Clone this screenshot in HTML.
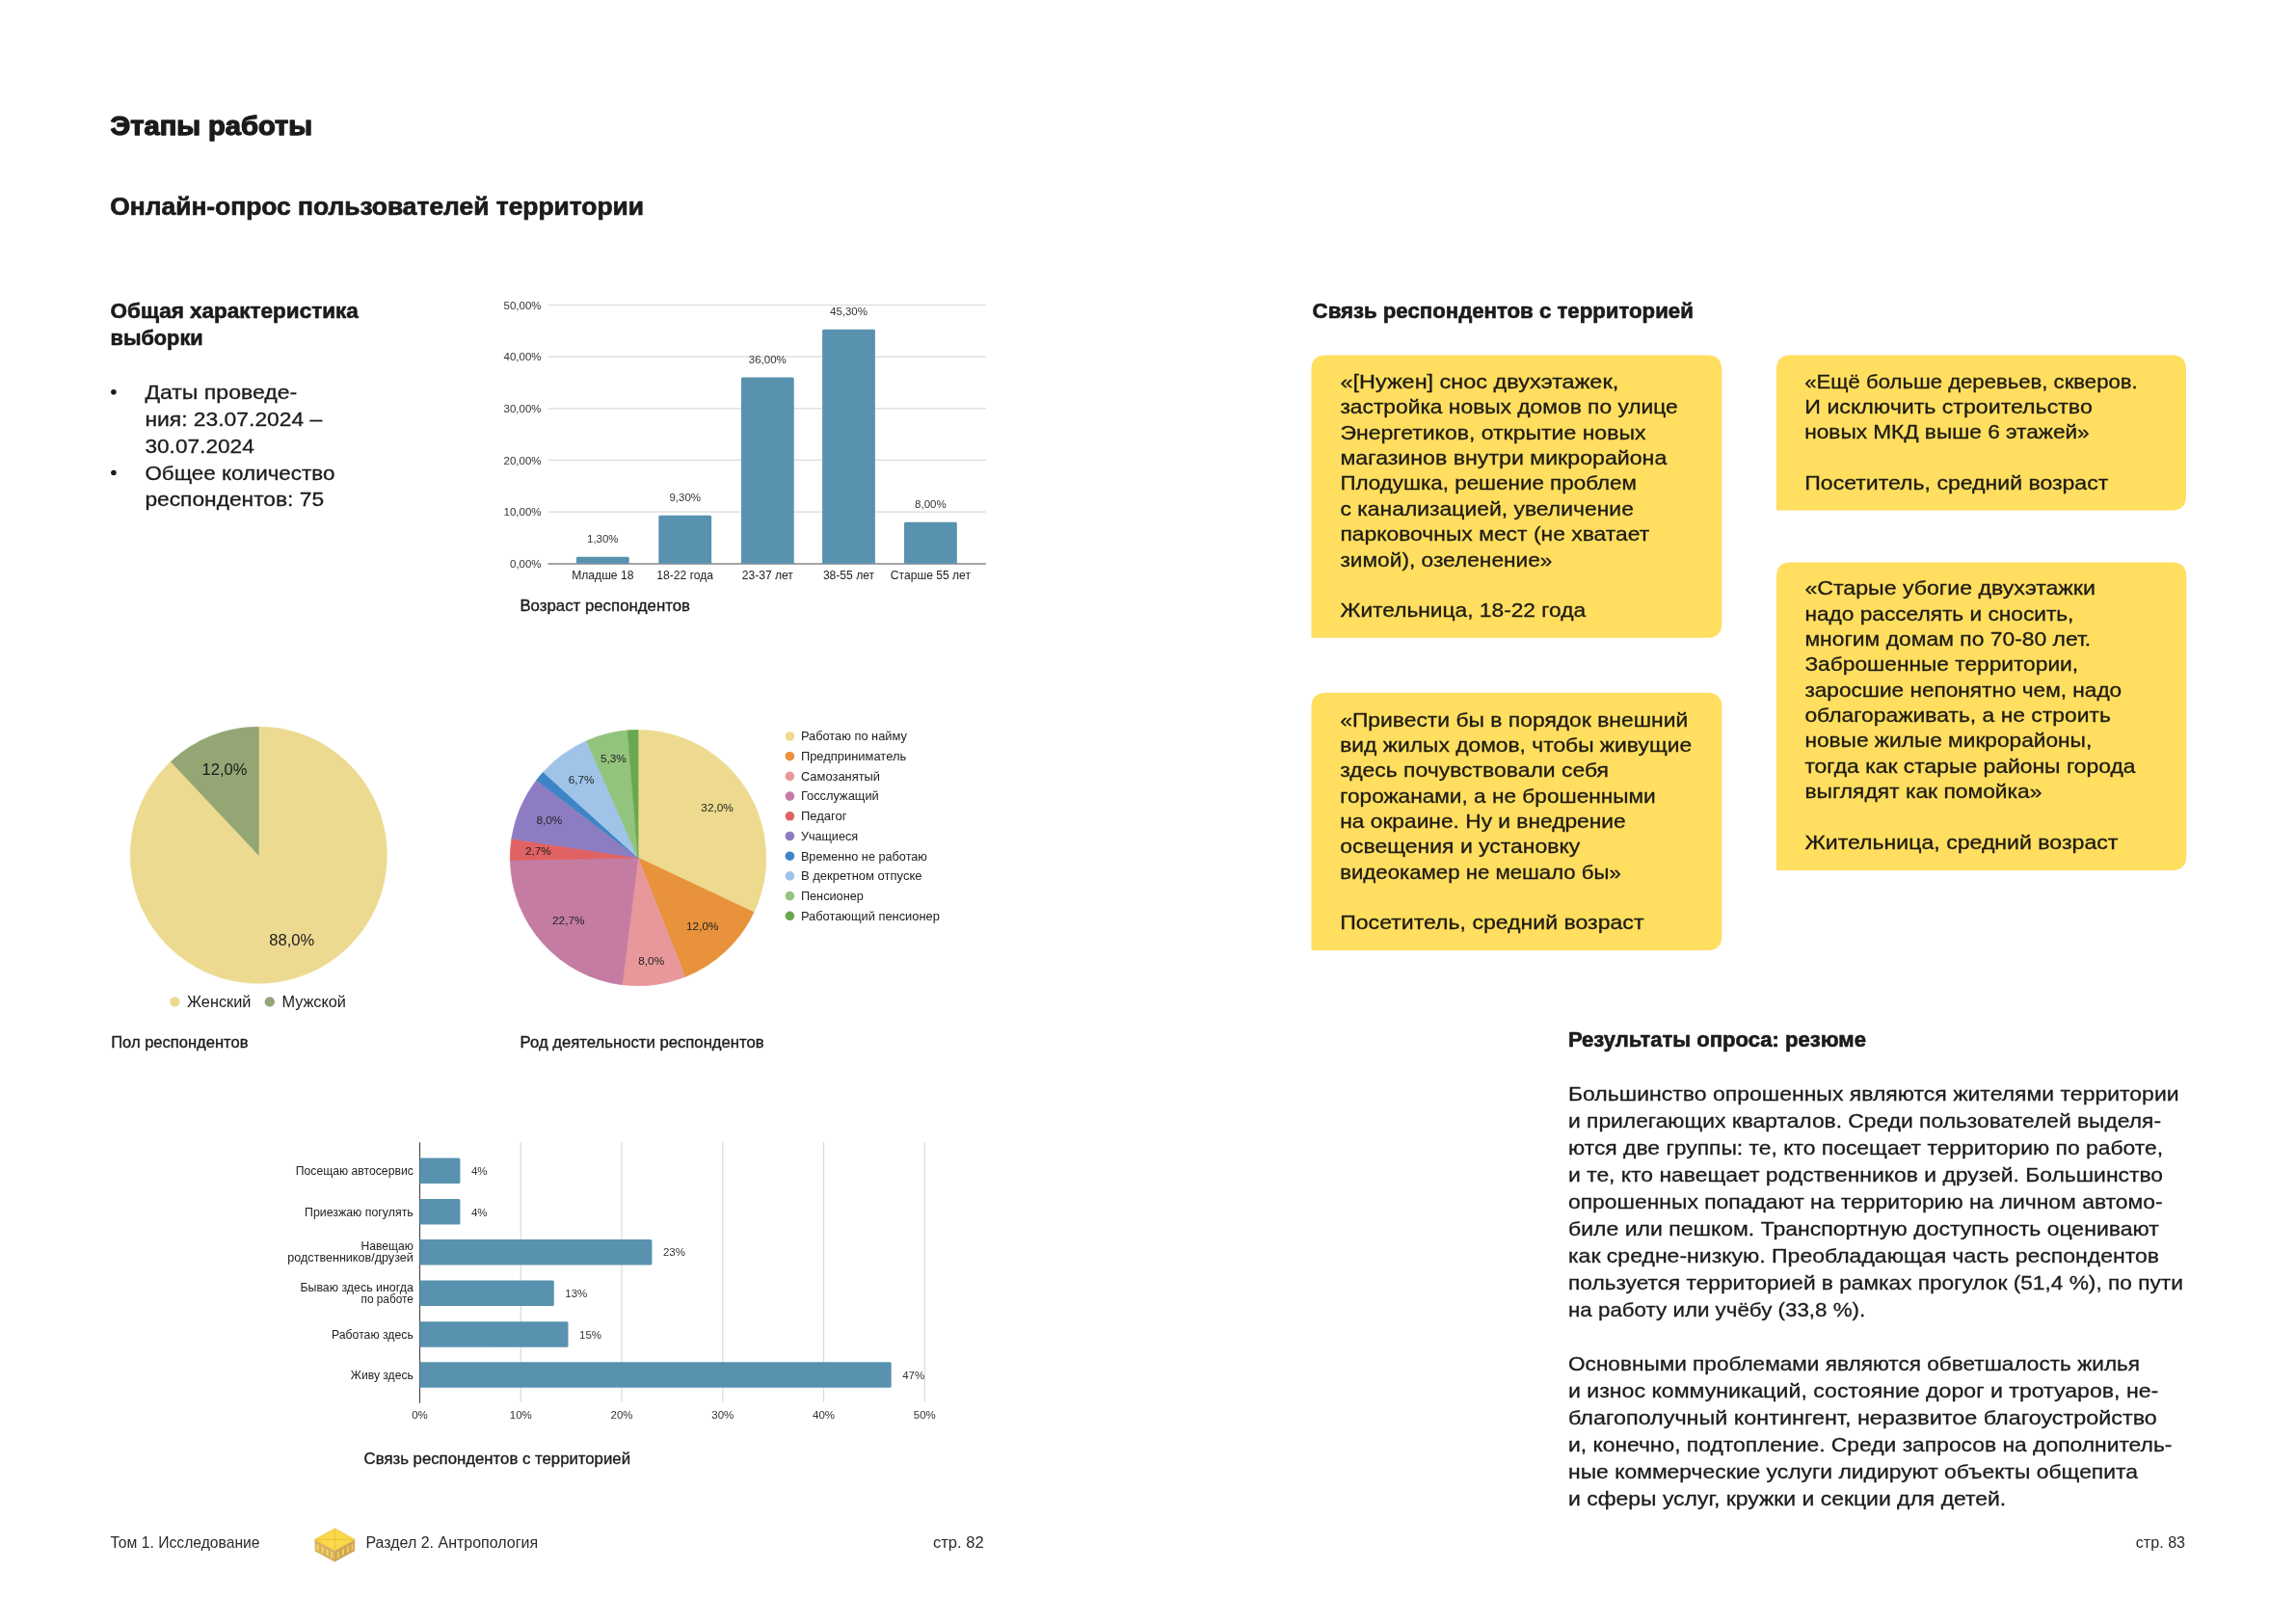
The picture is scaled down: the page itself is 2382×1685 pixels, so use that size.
<!DOCTYPE html>
<html><head><meta charset="utf-8"><title>Этапы работы</title>
<style>
html,body{margin:0;padding:0;background:#fff;}
body{width:2382px;height:1685px;overflow:hidden;position:relative;font-family:"Liberation Sans", sans-serif;}
svg{position:absolute;left:0;top:0;will-change:transform;}
svg text{font-family:"Liberation Sans", sans-serif;}
</style></head><body>
<svg width="2382" height="1685" viewBox="0 0 2382 1685">
<rect width="2382" height="1685" fill="#fff"/>
<text x="114.6" y="139.9" font-size="27.5" font-weight="700" fill="#1b1b1b" textLength="209.4" lengthAdjust="spacingAndGlyphs" stroke="#1b1b1b" stroke-linejoin="round" stroke-width="1.3">Этапы работы</text>
<text x="114.3" y="222.7" font-size="25.3" font-weight="700" fill="#1b1b1b" textLength="553.7" lengthAdjust="spacingAndGlyphs" stroke="#1b1b1b" stroke-linejoin="round" stroke-width="0.7">Онлайн-опрос пользователей территории</text>
<text x="114.6" y="330.1" font-size="21.3" font-weight="700" fill="#1b1b1b" textLength="257.20000000000005" lengthAdjust="spacingAndGlyphs" stroke="#1b1b1b" stroke-linejoin="round" stroke-width="0.6">Общая характеристика</text>
<text x="114.6" y="357.6" font-size="21.3" font-weight="700" fill="#1b1b1b" textLength="96.0" lengthAdjust="spacingAndGlyphs" stroke="#1b1b1b" stroke-linejoin="round" stroke-width="0.6">выборки</text>
<circle cx="117.9" cy="406.8" r="2.8" fill="#1b1b1b"/>
<circle cx="117.9" cy="490.5" r="2.8" fill="#1b1b1b"/>
<text x="150.4" y="413.8" font-size="21" fill="#1b1b1b" textLength="157.79999999999998" lengthAdjust="spacingAndGlyphs" stroke-width="0.3" stroke="#1b1b1b">Даты проведе-</text>
<text x="150.4" y="441.7" font-size="21" fill="#1b1b1b" textLength="183.9" lengthAdjust="spacingAndGlyphs" stroke-width="0.3" stroke="#1b1b1b">ния: 23.07.2024 –</text>
<text x="150.4" y="469.6" font-size="21" fill="#1b1b1b" textLength="113.4" lengthAdjust="spacingAndGlyphs" stroke-width="0.3" stroke="#1b1b1b">30.07.2024</text>
<text x="150.4" y="497.5" font-size="21" fill="#1b1b1b" textLength="196.99999999999997" lengthAdjust="spacingAndGlyphs" stroke-width="0.3" stroke="#1b1b1b">Общее количество</text>
<text x="150.4" y="525.4" font-size="21" fill="#1b1b1b" textLength="185.70000000000002" lengthAdjust="spacingAndGlyphs" stroke-width="0.3" stroke="#1b1b1b">респондентов: 75</text>
<line x1="568.4" y1="531.1" x2="1023.0" y2="531.1" stroke="#dadada" stroke-width="1.2"/>
<line x1="568.4" y1="477.4" x2="1023.0" y2="477.4" stroke="#dadada" stroke-width="1.2"/>
<line x1="568.4" y1="423.8" x2="1023.0" y2="423.8" stroke="#dadada" stroke-width="1.2"/>
<line x1="568.4" y1="370.1" x2="1023.0" y2="370.1" stroke="#dadada" stroke-width="1.2"/>
<line x1="568.4" y1="316.5" x2="1023.0" y2="316.5" stroke="#dadada" stroke-width="1.2"/>
<line x1="568.4" y1="585.0" x2="1023.0" y2="585.0" stroke="#868686" stroke-width="1.5"/>
<text x="561.6" y="588.9" font-size="11.5" text-anchor="end" fill="#333">0,00%</text>
<text x="561.6" y="535.3" font-size="11.5" text-anchor="end" fill="#333">10,00%</text>
<text x="561.6" y="481.6" font-size="11.5" text-anchor="end" fill="#333">20,00%</text>
<text x="561.6" y="428.0" font-size="11.5" text-anchor="end" fill="#333">30,00%</text>
<text x="561.6" y="374.3" font-size="11.5" text-anchor="end" fill="#333">40,00%</text>
<text x="561.6" y="320.7" font-size="11.5" text-anchor="end" fill="#333">50,00%</text>
<path d="M597.9,584.7 V579.2 Q597.9,577.7 599.4,577.7 H651.2 Q652.7,577.7 652.7,579.2 V584.7 Z" fill="#5892AF"/>
<text x="625.3" y="563.2" font-size="11.5" text-anchor="middle" fill="#333">1,30%</text>
<text x="625.3" y="601.0" font-size="12.1" text-anchor="middle" fill="#222">Младше 18</text>
<path d="M683.3,584.7 V536.3 Q683.3,534.8 684.8,534.8 H736.6 Q738.1,534.8 738.1,536.3 V584.7 Z" fill="#5892AF"/>
<text x="710.7" y="520.3" font-size="11.5" text-anchor="middle" fill="#333">9,30%</text>
<text x="710.7" y="601.0" font-size="12.1" text-anchor="middle" fill="#222">18-22 года</text>
<path d="M768.9,584.7 V393.1 Q768.9,391.6 770.4,391.6 H822.2 Q823.7,391.6 823.7,393.1 V584.7 Z" fill="#5892AF"/>
<text x="796.3" y="377.1" font-size="11.5" text-anchor="middle" fill="#333">36,00%</text>
<text x="796.3" y="601.0" font-size="12.1" text-anchor="middle" fill="#222">23-37 лет</text>
<path d="M853.1,584.7 V343.2 Q853.1,341.7 854.6,341.7 H906.4 Q907.9,341.7 907.9,343.2 V584.7 Z" fill="#5892AF"/>
<text x="880.5" y="327.2" font-size="11.5" text-anchor="middle" fill="#333">45,30%</text>
<text x="880.5" y="601.0" font-size="12.1" text-anchor="middle" fill="#222">38-55 лет</text>
<path d="M938.0,584.7 V543.3 Q938.0,541.8 939.5,541.8 H991.3 Q992.8,541.8 992.8,543.3 V584.7 Z" fill="#5892AF"/>
<text x="965.4" y="527.3" font-size="11.5" text-anchor="middle" fill="#333">8,00%</text>
<text x="965.4" y="601.0" font-size="12.1" text-anchor="middle" fill="#222">Старше 55 лет</text>
<text x="539.4" y="633.5" font-size="16.6" fill="#1b1b1b" textLength="176.6" lengthAdjust="spacingAndGlyphs" stroke-width="0.35" stroke="#1b1b1b">Возраст респондентов</text>
<path d="M268.30,887.20 L268.30,754.20 A133,133 0 1 1 177.26,790.25 Z" fill="#EDDA91" stroke="#EDDA91" stroke-width="0.7" stroke-linejoin="round"/>
<path d="M268.30,887.20 L177.26,790.25 A133,133 0 0 1 268.30,754.20 Z" fill="#93A674" stroke="#93A674" stroke-width="0.7" stroke-linejoin="round"/>
<text x="233.0" y="803.5" font-size="16.5" text-anchor="middle" fill="#1b1b1b">12,0%</text>
<text x="302.7" y="981.0" font-size="16.5" text-anchor="middle" fill="#1b1b1b">88,0%</text>
<circle cx="181.4" cy="1039.4" r="5.2" fill="#EDDA91"/>
<text x="194.0" y="1045.3" font-size="16.3" fill="#1b1b1b">Женский</text>
<circle cx="279.8" cy="1039.4" r="5.2" fill="#93A674"/>
<text x="292.4" y="1045.3" font-size="16.3" fill="#1b1b1b">Мужской</text>
<text x="115.2" y="1087.2" font-size="16.5" fill="#1b1b1b" textLength="142.3" lengthAdjust="spacingAndGlyphs" stroke-width="0.35" stroke="#1b1b1b">Пол респондентов</text>
<path d="M662.00,890.10 L662.00,757.40 A132.7,132.7 0 0 1 782.07,946.60 Z" fill="#EDDA8F" stroke="#EDDA8F" stroke-width="0.7" stroke-linejoin="round"/>
<path d="M662.00,890.10 L782.07,946.60 A132.7,132.7 0 0 1 710.85,1013.48 Z" fill="#E8923B" stroke="#E8923B" stroke-width="0.7" stroke-linejoin="round"/>
<path d="M662.00,890.10 L710.85,1013.48 A132.7,132.7 0 0 1 645.37,1021.75 Z" fill="#E8989B" stroke="#E8989B" stroke-width="0.7" stroke-linejoin="round"/>
<path d="M662.00,890.10 L645.37,1021.75 A132.7,132.7 0 0 1 529.32,892.60 Z" fill="#C47CA3" stroke="#C47CA3" stroke-width="0.7" stroke-linejoin="round"/>
<path d="M662.00,890.10 L529.32,892.60 A132.7,132.7 0 0 1 530.81,870.17 Z" fill="#E06262" stroke="#E06262" stroke-width="0.7" stroke-linejoin="round"/>
<path d="M662.00,890.10 L530.81,870.17 A132.7,132.7 0 0 1 556.64,809.43 Z" fill="#8E7CC3" stroke="#8E7CC3" stroke-width="0.7" stroke-linejoin="round"/>
<path d="M662.00,890.10 L556.64,809.43 A132.7,132.7 0 0 1 563.57,801.10 Z" fill="#3D85C6" stroke="#3D85C6" stroke-width="0.7" stroke-linejoin="round"/>
<path d="M662.00,890.10 L563.57,801.10 A132.7,132.7 0 0 1 608.53,768.65 Z" fill="#A0C4E8" stroke="#A0C4E8" stroke-width="0.7" stroke-linejoin="round"/>
<path d="M662.00,890.10 L608.53,768.65 A132.7,132.7 0 0 1 651.17,757.84 Z" fill="#93C47D" stroke="#93C47D" stroke-width="0.7" stroke-linejoin="round"/>
<path d="M662.00,890.10 L651.17,757.84 A132.7,132.7 0 0 1 662.00,757.40 Z" fill="#6AA84F" stroke="#6AA84F" stroke-width="0.7" stroke-linejoin="round"/>
<text x="744.1" y="842.1" font-size="11.8" text-anchor="middle" fill="#222">32,0%</text>
<text x="728.8" y="965.0" font-size="11.8" text-anchor="middle" fill="#222">12,0%</text>
<text x="675.7" y="1001.0" font-size="11.8" text-anchor="middle" fill="#222">8,0%</text>
<text x="589.8" y="959.1" font-size="11.8" text-anchor="middle" fill="#222">22,7%</text>
<text x="558.4" y="887.4" font-size="11.8" text-anchor="middle" fill="#222">2,7%</text>
<text x="569.9" y="854.7" font-size="11.8" text-anchor="middle" fill="#222">8,0%</text>
<text x="603.1" y="812.6" font-size="11.8" text-anchor="middle" fill="#222">6,7%</text>
<text x="636.4" y="791.3" font-size="11.8" text-anchor="middle" fill="#222">5,3%</text>
<circle cx="819.4" cy="764.0" r="4.8" fill="#EDDA8F"/>
<text x="830.9" y="768.3" font-size="12.3" fill="#222" textLength="110.0" lengthAdjust="spacingAndGlyphs">Работаю по найму</text>
<circle cx="819.4" cy="784.7" r="4.8" fill="#E8923B"/>
<text x="830.9" y="789.0" font-size="12.3" fill="#222" textLength="109.30000000000007" lengthAdjust="spacingAndGlyphs">Предприниматель</text>
<circle cx="819.4" cy="805.4" r="4.8" fill="#E8989B"/>
<text x="830.9" y="809.7" font-size="12.3" fill="#222" textLength="82.20000000000005" lengthAdjust="spacingAndGlyphs">Самозанятый</text>
<circle cx="819.4" cy="826.1" r="4.8" fill="#C47CA3"/>
<text x="830.9" y="830.4" font-size="12.3" fill="#222" textLength="80.89999999999998" lengthAdjust="spacingAndGlyphs">Госслужащий</text>
<circle cx="819.4" cy="846.8" r="4.8" fill="#E06262"/>
<text x="830.9" y="851.1" font-size="12.3" fill="#222" textLength="47.700000000000045" lengthAdjust="spacingAndGlyphs">Педагог</text>
<circle cx="819.4" cy="867.5" r="4.8" fill="#8E7CC3"/>
<text x="830.9" y="871.8" font-size="12.3" fill="#222" textLength="59.200000000000045" lengthAdjust="spacingAndGlyphs">Учащиеся</text>
<circle cx="819.4" cy="888.2" r="4.8" fill="#3D85C6"/>
<text x="830.9" y="892.5" font-size="12.3" fill="#222" textLength="131.0" lengthAdjust="spacingAndGlyphs">Временно не работаю</text>
<circle cx="819.4" cy="908.9" r="4.8" fill="#A0C4E8"/>
<text x="830.9" y="913.2" font-size="12.3" fill="#222" textLength="125.60000000000002" lengthAdjust="spacingAndGlyphs">В декретном отпуске</text>
<circle cx="819.4" cy="929.6" r="4.8" fill="#93C47D"/>
<text x="830.9" y="933.9" font-size="12.3" fill="#222" textLength="65.0" lengthAdjust="spacingAndGlyphs">Пенсионер</text>
<circle cx="819.4" cy="950.3" r="4.8" fill="#6AA84F"/>
<text x="830.9" y="954.6" font-size="12.3" fill="#222" textLength="143.89999999999998" lengthAdjust="spacingAndGlyphs">Работающий пенсионер</text>
<text x="539.6" y="1087.4" font-size="16.6" fill="#1b1b1b" textLength="253.1" lengthAdjust="spacingAndGlyphs" stroke-width="0.35" stroke="#1b1b1b">Род деятельности респондентов</text>
<line x1="540.3" y1="1185.2" x2="540.3" y2="1455.0" stroke="#dadada" stroke-width="1.2"/>
<line x1="645.0" y1="1185.2" x2="645.0" y2="1455.0" stroke="#dadada" stroke-width="1.2"/>
<line x1="749.8" y1="1185.2" x2="749.8" y2="1455.0" stroke="#dadada" stroke-width="1.2"/>
<line x1="854.5" y1="1185.2" x2="854.5" y2="1455.0" stroke="#dadada" stroke-width="1.2"/>
<line x1="959.3" y1="1185.2" x2="959.3" y2="1455.0" stroke="#dadada" stroke-width="1.2"/>
<line x1="435.5" y1="1185.2" x2="435.5" y2="1455.7" stroke="#4a4a4a" stroke-width="1.2"/>
<text x="435.5" y="1471.5" font-size="11.5" text-anchor="middle" fill="#333">0%</text>
<text x="540.3" y="1471.5" font-size="11.5" text-anchor="middle" fill="#333">10%</text>
<text x="645.0" y="1471.5" font-size="11.5" text-anchor="middle" fill="#333">20%</text>
<text x="749.8" y="1471.5" font-size="11.5" text-anchor="middle" fill="#333">30%</text>
<text x="854.5" y="1471.5" font-size="11.5" text-anchor="middle" fill="#333">40%</text>
<text x="959.3" y="1471.5" font-size="11.5" text-anchor="middle" fill="#333">50%</text>
<path d="M435.5,1201.4 H475.9 Q477.4,1201.4 477.4,1202.9 V1226.4 Q477.4,1227.9 475.9,1227.9 H435.5 Z" fill="#5892AF"/>
<text x="488.9" y="1218.9" font-size="11.5" fill="#333">4%</text>
<text x="306.8" y="1219.0" font-size="12.3" fill="#222" textLength="122.0" lengthAdjust="spacingAndGlyphs">Посещаю автосервис</text>
<path d="M435.5,1244.0 H475.9 Q477.4,1244.0 477.4,1245.5 V1269.0 Q477.4,1270.5 475.9,1270.5 H435.5 Z" fill="#5892AF"/>
<text x="488.9" y="1261.5" font-size="11.5" fill="#333">4%</text>
<text x="316.0" y="1261.5" font-size="12.3" fill="#222" textLength="112.80000000000001" lengthAdjust="spacingAndGlyphs">Приезжаю погулять</text>
<path d="M435.5,1285.9 H674.9 Q676.4,1285.9 676.4,1287.4 V1310.9 Q676.4,1312.4 674.9,1312.4 H435.5 Z" fill="#5892AF"/>
<text x="687.9" y="1303.4" font-size="11.5" fill="#333">23%</text>
<text x="374.5" y="1297.4" font-size="12.3" fill="#222" textLength="54.30000000000001" lengthAdjust="spacingAndGlyphs">Навещаю</text>
<text x="298.3" y="1309.2" font-size="12.3" fill="#222" textLength="130.5" lengthAdjust="spacingAndGlyphs">родственников/друзей</text>
<path d="M435.5,1328.5 H573.3 Q574.8,1328.5 574.8,1330.0 V1353.5 Q574.8,1355.0 573.3,1355.0 H435.5 Z" fill="#5892AF"/>
<text x="586.3" y="1346.0" font-size="11.5" fill="#333">13%</text>
<text x="311.4" y="1340.0" font-size="12.3" fill="#222" textLength="117.40000000000003" lengthAdjust="spacingAndGlyphs">Бываю здесь иногда</text>
<text x="374.5" y="1351.8" font-size="12.3" fill="#222" textLength="54.30000000000001" lengthAdjust="spacingAndGlyphs">по работе</text>
<path d="M435.5,1371.2 H588.0 Q589.5,1371.2 589.5,1372.7 V1396.2 Q589.5,1397.7 588.0,1397.7 H435.5 Z" fill="#5892AF"/>
<text x="601.0" y="1388.7" font-size="11.5" fill="#333">15%</text>
<text x="344.0" y="1388.8" font-size="12.3" fill="#222" textLength="84.80000000000001" lengthAdjust="spacingAndGlyphs">Работаю здесь</text>
<path d="M435.5,1413.3 H923.2 Q924.7,1413.3 924.7,1414.8 V1438.3 Q924.7,1439.8 923.2,1439.8 H435.5 Z" fill="#5892AF"/>
<text x="936.2" y="1430.8" font-size="11.5" fill="#333">47%</text>
<text x="363.8" y="1430.8" font-size="12.3" fill="#222" textLength="65.0" lengthAdjust="spacingAndGlyphs">Живу здесь</text>
<text x="377.6" y="1518.8" font-size="16.7" fill="#1b1b1b" textLength="276.4" lengthAdjust="spacingAndGlyphs" stroke-width="0.35" stroke="#1b1b1b">Связь респондентов с территорией</text>
<text x="114.5" y="1606.3" font-size="15.7" fill="#2a2a2a" textLength="155.1" lengthAdjust="spacingAndGlyphs">Том 1. Исследование</text>
<text x="379.4" y="1606.3" font-size="16.0" fill="#2a2a2a" textLength="178.7" lengthAdjust="spacingAndGlyphs">Раздел 2. Антропология</text>
<text x="968.0" y="1606.3" font-size="16.5" fill="#2a2a2a" textLength="52.6" lengthAdjust="spacingAndGlyphs">стр. 82</text>
<text x="2215.8" y="1605.8" font-size="16.5" fill="#2a2a2a" textLength="51.3" lengthAdjust="spacingAndGlyphs">стр. 83</text>
<g stroke-linejoin="round">
<path d="M326.4,1597.6 L347.9,1609.3 L347.9,1620.9 L326.9,1609.4 Z" fill="#D6B05E"/>
<path d="M347.4,1609 L368.2,1597.6 L368.0,1609.3 L347.4,1620.6 Z" fill="#CCA557"/>
<path d="M328.5,1601.5 l0,6.5 l2.2,1.2 l0,-6.5 Z M333.5,1604.2 l0,6.5 l2.2,1.2 l0,-6.5 Z M338.5,1606.9 l0,6.5 l2.2,1.2 l0,-6.5 Z M343.2,1609.4 l0,6.5 l2.0,1.1 l0,-6.5 Z" fill="#F3D463"/>
<path d="M349.8,1610.4 l0,6.5 l2.2,-1.2 l0,-6.5 Z M354.8,1607.7 l0,6.5 l2.2,-1.2 l0,-6.5 Z M359.8,1605.0 l0,6.5 l2.2,-1.2 l0,-6.5 Z M364.5,1602.4 l0,6.5 l2.0,-1.1 l0,-6.5 Z" fill="#EDCB55"/>
<path d="M347.4,1585.8 L368.3,1597.5 L347.4,1608.8 L326.3,1597.5 Z" fill="#FAD848" stroke="#E2BA3C" stroke-width="0.6"/>
<path d="M347.4,1586.5 L347.4,1597.2 M327.5,1597.5 L347.4,1597.2 L367.2,1597.5 M347.4,1597.2 L347.4,1608" stroke="#DDB23A" stroke-width="0.6" fill="none"/>
</g>
<text x="1361.6" y="329.6" font-size="21.6" font-weight="700" fill="#1b1b1b" textLength="395.20000000000005" lengthAdjust="spacingAndGlyphs" stroke="#1b1b1b" stroke-linejoin="round" stroke-width="0.6">Связь респондентов с территорией</text>
<path d="M1360.5,383.6 Q1360.5,368.6 1375.5,368.6 H1771.3 Q1786.3,368.6 1786.3,383.6 V646.8 Q1786.3,661.8 1771.3,661.8 H1360.5 Z" fill="#FFDE60"/>
<path d="M1843,383.4 Q1843,368.4 1858,368.4 H2253 Q2268,368.4 2268,383.4 V514.4 Q2268,529.4 2253,529.4 H1843 Z" fill="#FFDE60"/>
<path d="M1360.5,733.8 Q1360.5,718.8 1375.5,718.8 H1771.4 Q1786.4,718.8 1786.4,733.8 V971.1 Q1786.4,986.1 1771.4,986.1 H1360.5 Z" fill="#FFDE60"/>
<path d="M1843,598.4 Q1843,583.4 1858,583.4 H2253.3 Q2268.3,583.4 2268.3,598.4 V888 Q2268.3,903 2253.3,903 H1843 Z" fill="#FFDE60"/>
<text x="1390.4" y="403.0" font-size="20.6" fill="#1c1a12" textLength="288.79999999999995" lengthAdjust="spacingAndGlyphs" stroke-width="0.3" stroke="#1c1a12">«[Нужен] снос двухэтажек,</text>
<text x="1390.4" y="429.4" font-size="20.6" fill="#1c1a12" textLength="350.39999999999986" lengthAdjust="spacingAndGlyphs" stroke-width="0.3" stroke="#1c1a12">застройка новых домов по улице</text>
<text x="1390.4" y="455.7" font-size="20.6" fill="#1c1a12" textLength="317.0999999999999" lengthAdjust="spacingAndGlyphs" stroke-width="0.3" stroke="#1c1a12">Энергетиков, открытие новых</text>
<text x="1390.4" y="482.1" font-size="20.6" fill="#1c1a12" textLength="338.89999999999986" lengthAdjust="spacingAndGlyphs" stroke-width="0.3" stroke="#1c1a12">магазинов внутри микрорайона</text>
<text x="1390.4" y="508.4" font-size="20.6" fill="#1c1a12" textLength="307.5" lengthAdjust="spacingAndGlyphs" stroke-width="0.3" stroke="#1c1a12">Плодушка, решение проблем</text>
<text x="1390.4" y="534.8" font-size="20.6" fill="#1c1a12" textLength="304.5" lengthAdjust="spacingAndGlyphs" stroke-width="0.3" stroke="#1c1a12">с канализацией, увеличение</text>
<text x="1390.4" y="561.1" font-size="20.6" fill="#1c1a12" textLength="320.79999999999995" lengthAdjust="spacingAndGlyphs" stroke-width="0.3" stroke="#1c1a12">парковочных мест (не хватает</text>
<text x="1390.4" y="587.5" font-size="20.6" fill="#1c1a12" textLength="220.0999999999999" lengthAdjust="spacingAndGlyphs" stroke-width="0.3" stroke="#1c1a12">зимой), озеленение»</text>
<text x="1390.4" y="640.1" font-size="20.6" fill="#1c1a12" textLength="254.79999999999995" lengthAdjust="spacingAndGlyphs" stroke-width="0.3" stroke="#1c1a12">Жительница, 18-22 года</text>
<text x="1872.3" y="402.6" font-size="20.6" fill="#1c1a12" textLength="345.39999999999986" lengthAdjust="spacingAndGlyphs" stroke-width="0.3" stroke="#1c1a12">«Ещё больше деревьев, скверов.</text>
<text x="1872.3" y="429.0" font-size="20.6" fill="#1c1a12" textLength="298.5000000000002" lengthAdjust="spacingAndGlyphs" stroke-width="0.3" stroke="#1c1a12">И исключить строительство</text>
<text x="1872.3" y="455.3" font-size="20.6" fill="#1c1a12" textLength="295.39999999999986" lengthAdjust="spacingAndGlyphs" stroke-width="0.3" stroke="#1c1a12">новых МКД выше 6 этажей»</text>
<text x="1872.3" y="508.0" font-size="20.6" fill="#1c1a12" textLength="315.0000000000002" lengthAdjust="spacingAndGlyphs" stroke-width="0.3" stroke="#1c1a12">Посетитель, средний возраст</text>
<text x="1390.2" y="753.6" font-size="20.6" fill="#1c1a12" textLength="361.0" lengthAdjust="spacingAndGlyphs" stroke-width="0.3" stroke="#1c1a12">«Привести бы в порядок внешний</text>
<text x="1390.2" y="780.0" font-size="20.6" fill="#1c1a12" textLength="364.89999999999986" lengthAdjust="spacingAndGlyphs" stroke-width="0.3" stroke="#1c1a12">вид жилых домов, чтобы живущие</text>
<text x="1390.2" y="806.3" font-size="20.6" fill="#1c1a12" textLength="278.79999999999995" lengthAdjust="spacingAndGlyphs" stroke-width="0.3" stroke="#1c1a12">здесь почувствовали себя</text>
<text x="1390.2" y="832.7" font-size="20.6" fill="#1c1a12" textLength="327.5999999999999" lengthAdjust="spacingAndGlyphs" stroke-width="0.3" stroke="#1c1a12">горожанами, а не брошенными</text>
<text x="1390.2" y="859.0" font-size="20.6" fill="#1c1a12" textLength="296.5" lengthAdjust="spacingAndGlyphs" stroke-width="0.3" stroke="#1c1a12">на окраине. Ну и внедрение</text>
<text x="1390.2" y="885.4" font-size="20.6" fill="#1c1a12" textLength="249.0999999999999" lengthAdjust="spacingAndGlyphs" stroke-width="0.3" stroke="#1c1a12">освещения и установку</text>
<text x="1390.2" y="911.7" font-size="20.6" fill="#1c1a12" textLength="291.70000000000005" lengthAdjust="spacingAndGlyphs" stroke-width="0.3" stroke="#1c1a12">видеокамер не мешало бы»</text>
<text x="1390.2" y="964.4" font-size="20.6" fill="#1c1a12" textLength="315.29999999999995" lengthAdjust="spacingAndGlyphs" stroke-width="0.3" stroke="#1c1a12">Посетитель, средний возраст</text>
<text x="1872.4" y="617.2" font-size="20.6" fill="#1c1a12" textLength="301.5" lengthAdjust="spacingAndGlyphs" stroke-width="0.3" stroke="#1c1a12">«Старые убогие двухэтажки</text>
<text x="1872.4" y="643.6" font-size="20.6" fill="#1c1a12" textLength="279.0" lengthAdjust="spacingAndGlyphs" stroke-width="0.3" stroke="#1c1a12">надо расселять и сносить,</text>
<text x="1872.4" y="669.9" font-size="20.6" fill="#1c1a12" textLength="296.7999999999997" lengthAdjust="spacingAndGlyphs" stroke-width="0.3" stroke="#1c1a12">многим домам по 70-80 лет.</text>
<text x="1872.4" y="696.2" font-size="20.6" fill="#1c1a12" textLength="283.6999999999998" lengthAdjust="spacingAndGlyphs" stroke-width="0.3" stroke="#1c1a12">Заброшенные территории,</text>
<text x="1872.4" y="722.6" font-size="20.6" fill="#1c1a12" textLength="328.7999999999997" lengthAdjust="spacingAndGlyphs" stroke-width="0.3" stroke="#1c1a12">заросшие непонятно чем, надо</text>
<text x="1872.4" y="749.0" font-size="20.6" fill="#1c1a12" textLength="317.5" lengthAdjust="spacingAndGlyphs" stroke-width="0.3" stroke="#1c1a12">облагораживать, а не строить</text>
<text x="1872.4" y="775.3" font-size="20.6" fill="#1c1a12" textLength="297.7999999999997" lengthAdjust="spacingAndGlyphs" stroke-width="0.3" stroke="#1c1a12">новые жилые микрорайоны,</text>
<text x="1872.4" y="801.7" font-size="20.6" fill="#1c1a12" textLength="343.1999999999998" lengthAdjust="spacingAndGlyphs" stroke-width="0.3" stroke="#1c1a12">тогда как старые районы города</text>
<text x="1872.4" y="828.0" font-size="20.6" fill="#1c1a12" textLength="246.0999999999999" lengthAdjust="spacingAndGlyphs" stroke-width="0.3" stroke="#1c1a12">выглядят как помойка»</text>
<text x="1872.4" y="880.7" font-size="20.6" fill="#1c1a12" textLength="325.0" lengthAdjust="spacingAndGlyphs" stroke-width="0.3" stroke="#1c1a12">Жительница, средний возраст</text>
<text x="1626.9" y="1086.0" font-size="21.6" font-weight="700" fill="#1b1b1b" textLength="309.0999999999999" lengthAdjust="spacingAndGlyphs" stroke="#1b1b1b" stroke-linejoin="round" stroke-width="0.6">Результаты опроса: резюме</text>
<text x="1627.0" y="1141.7" font-size="21" fill="#1b1b1b" textLength="633.5999999999999" lengthAdjust="spacingAndGlyphs" stroke-width="0.3" stroke="#1b1b1b">Большинство опрошенных являются жителями территории</text>
<text x="1627.0" y="1169.7" font-size="21" fill="#1b1b1b" textLength="615" lengthAdjust="spacingAndGlyphs" stroke-width="0.3" stroke="#1b1b1b">и прилегающих кварталов. Среди пользователей выделя-</text>
<text x="1627.0" y="1197.8" font-size="21" fill="#1b1b1b" textLength="617.0999999999999" lengthAdjust="spacingAndGlyphs" stroke-width="0.3" stroke="#1b1b1b">ются две группы: те, кто посещает территорию по работе,</text>
<text x="1627.0" y="1225.8" font-size="21" fill="#1b1b1b" textLength="617.0999999999999" lengthAdjust="spacingAndGlyphs" stroke-width="0.3" stroke="#1b1b1b">и те, кто навещает родственников и друзей. Большинство</text>
<text x="1627.0" y="1253.8" font-size="21" fill="#1b1b1b" textLength="616.5999999999999" lengthAdjust="spacingAndGlyphs" stroke-width="0.3" stroke="#1b1b1b">опрошенных попадают на территорию на личном автомо-</text>
<text x="1627.0" y="1281.9" font-size="21" fill="#1b1b1b" textLength="612.8000000000002" lengthAdjust="spacingAndGlyphs" stroke-width="0.3" stroke="#1b1b1b">биле или пешком. Транспортную доступность оценивают</text>
<text x="1627.0" y="1309.9" font-size="21" fill="#1b1b1b" textLength="613.0999999999999" lengthAdjust="spacingAndGlyphs" stroke-width="0.3" stroke="#1b1b1b">как средне-низкую. Преобладающая часть респондентов</text>
<text x="1627.0" y="1337.9" font-size="21" fill="#1b1b1b" textLength="637.9000000000001" lengthAdjust="spacingAndGlyphs" stroke-width="0.3" stroke="#1b1b1b">пользуется территорией в рамках прогулок (51,4 %), по пути</text>
<text x="1627.0" y="1365.9" font-size="21" fill="#1b1b1b" textLength="308.20000000000005" lengthAdjust="spacingAndGlyphs" stroke-width="0.3" stroke="#1b1b1b">на работу или учёбу (33,8 %).</text>
<text x="1627.0" y="1422.0" font-size="21" fill="#1b1b1b" textLength="593.0999999999999" lengthAdjust="spacingAndGlyphs" stroke-width="0.3" stroke="#1b1b1b">Основными проблемами являются обветшалость жилья</text>
<text x="1627.0" y="1450.0" font-size="21" fill="#1b1b1b" textLength="612.1999999999998" lengthAdjust="spacingAndGlyphs" stroke-width="0.3" stroke="#1b1b1b">и износ коммуникаций, состояние дорог и тротуаров, не-</text>
<text x="1627.0" y="1478.1" font-size="21" fill="#1b1b1b" textLength="610.8000000000002" lengthAdjust="spacingAndGlyphs" stroke-width="0.3" stroke="#1b1b1b">благополучный контингент, неразвитое благоустройство</text>
<text x="1627.0" y="1506.1" font-size="21" fill="#1b1b1b" textLength="626.4000000000001" lengthAdjust="spacingAndGlyphs" stroke-width="0.3" stroke="#1b1b1b">и, конечно, подтопление. Среди запросов на дополнитель-</text>
<text x="1627.0" y="1534.1" font-size="21" fill="#1b1b1b" textLength="591" lengthAdjust="spacingAndGlyphs" stroke-width="0.3" stroke="#1b1b1b">ные коммерческие услуги лидируют объекты общепита</text>
<text x="1627.0" y="1562.2" font-size="21" fill="#1b1b1b" textLength="454.1999999999998" lengthAdjust="spacingAndGlyphs" stroke-width="0.3" stroke="#1b1b1b">и сферы услуг, кружки и секции для детей.</text>
</svg>
</body></html>
